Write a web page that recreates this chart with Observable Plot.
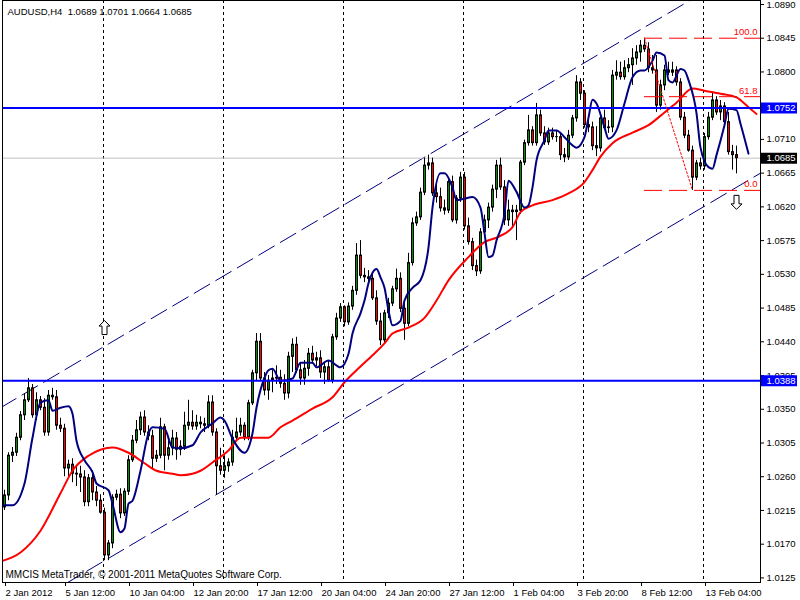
<!DOCTYPE html>
<html><head><meta charset="utf-8">
<script src="https://cdn.jsdelivr.net/npm/d3@7"></script>
<script src="https://cdn.jsdelivr.net/npm/@observablehq/plot@0.6"></script>
<style>
body{margin:0;background:#fff;}
svg{display:block}
svg text{white-space:pre}
</style>
</head><body><div id="chart"></div>
<script>
const symbolName = "AUDUSD", timeframe = "H4";
const copyright = "MMCIS MetaTrader, \u00a9 2001-2011 MetaQuotes Software Corp.";

const opens = [1.0219,1.0235,1.0288,1.0292,1.0312,1.0342,1.0362,1.0378,1.0342,1.0362,
1.0352,1.0319,1.0368,1.0366,1.0328,1.0324,1.0271,1.0276,1.0264,1.0263,
1.0259,1.0226,1.0258,1.0239,1.0228,1.0212,1.0155,1.0171,1.0232,1.0236,
1.0211,1.0240,1.0282,1.0308,1.0322,1.0339,1.0319,1.0314,1.0284,1.0288,
1.0326,1.0288,1.0298,1.0311,1.0296,1.0300,1.0328,1.0332,1.0327,1.0332,
1.0330,1.0328,1.0359,1.0319,1.0274,1.0268,1.0274,1.0279,1.0312,1.0319,
1.0328,1.0312,1.0358,1.0398,1.0440,1.0391,1.0375,1.0388,1.0391,1.0392,
1.0384,1.0371,1.0420,1.0436,1.0402,1.0391,1.0404,1.0424,1.0415,1.0418,
1.0399,1.0406,1.0388,1.0446,1.0471,1.0486,1.0466,1.0487,1.0508,1.0555,
1.0528,1.0526,1.0524,1.0498,1.0467,1.0442,1.0478,1.0491,1.0510,1.0524,
1.0484,1.0464,1.0545,1.0598,1.0606,1.0639,1.0675,1.0678,1.0638,1.0633,
1.0618,1.0615,1.0653,1.0602,1.0631,1.0659,1.0594,1.0573,1.0541,1.0534,
1.0586,1.0602,1.0619,1.0643,1.0675,1.0646,1.0602,1.0615,1.0613,1.0615,
1.0679,1.0705,1.0722,1.0705,1.0742,1.0718,1.0706,1.0718,1.0713,1.0713,
1.0689,1.0686,1.0715,1.0738,1.0786,1.0771,1.0729,1.0726,1.0701,1.0698,
1.0738,1.0725,1.0726,1.0795,1.0799,1.0793,1.0805,1.0809,1.0818,1.0826,
1.0835,1.0830,1.0805,1.0802,1.0755,1.0782,1.0802,1.0799,1.0802,1.0786,
1.0739,1.0715,1.0695,1.0659,1.0678,1.0674,1.0713,1.0739,1.0762,1.0746,
1.0754,1.0733,1.0693,1.0689];

const highs = [1.0242,1.0292,1.0299,1.0318,1.0347,1.0371,1.0391,1.0383,1.0372,1.0367,
1.0364,1.0375,1.0378,1.0375,1.0338,1.0330,1.0282,1.0284,1.0274,1.0274,
1.0268,1.0263,1.0268,1.0247,1.0236,1.0218,1.0175,1.0236,1.0242,1.0244,
1.0244,1.0288,1.0315,1.0335,1.0346,1.0348,1.0328,1.0322,1.0295,1.0338,
1.0330,1.0308,1.0322,1.0319,1.0308,1.0346,1.0362,1.0348,1.0342,1.0340,
1.0338,1.0368,1.0368,1.0324,1.0298,1.0288,1.0284,1.0322,1.0338,1.0338,
1.0332,1.0362,1.0402,1.0451,1.0451,1.0399,1.0395,1.0402,1.0408,1.0402,
1.0396,1.0426,1.0444,1.0446,1.0412,1.0415,1.0431,1.0434,1.0426,1.0428,
1.0412,1.0415,1.0450,1.0478,1.0491,1.0488,1.0492,1.0514,1.0571,1.0575,
1.0538,1.0535,1.0532,1.0508,1.0478,1.0482,1.0498,1.0514,1.0537,1.0532,
1.0495,1.0558,1.0605,1.0613,1.0645,1.0685,1.0689,1.0685,1.0649,1.0645,
1.0629,1.0658,1.0661,1.0635,1.0666,1.0666,1.0605,1.0578,1.0549,1.0591,
1.0609,1.0625,1.0649,1.0682,1.0685,1.0655,1.0629,1.0622,1.0622,1.0682,
1.0709,1.0742,1.0727,1.0758,1.0749,1.0727,1.0725,1.0725,1.0722,1.0719,
1.0698,1.0722,1.0742,1.0795,1.0791,1.0775,1.0738,1.0733,1.0727,1.0741,
1.0749,1.0735,1.0802,1.0815,1.0813,1.0815,1.0818,1.0831,1.0835,1.0842,
1.0845,1.0839,1.0822,1.0822,1.0789,1.0809,1.0813,1.0813,1.0807,1.0791,
1.0746,1.0722,1.0701,1.0682,1.0685,1.0718,1.0746,1.0773,1.0767,1.0762,
1.0759,1.0746,1.0702,1.0701];

const lows = [1.0215,1.0228,1.0279,1.0287,1.0308,1.0335,1.0359,1.0338,1.0335,1.0348,
1.0314,1.0314,1.0362,1.0322,1.0319,1.0260,1.0260,1.0252,1.0247,1.0239,
1.0220,1.0220,1.0228,1.0220,1.0210,1.0148,1.0148,1.0164,1.0228,1.0204,
1.0207,1.0235,1.0279,1.0304,1.0315,1.0314,1.0308,1.0271,1.0279,1.0284,
1.0268,1.0282,1.0288,1.0282,1.0288,1.0295,1.0322,1.0322,1.0322,1.0324,
1.0319,1.0324,1.0314,1.0235,1.0262,1.0258,1.0266,1.0274,1.0308,1.0314,
1.0308,1.0308,1.0355,1.0387,1.0388,1.0368,1.0362,1.0372,1.0383,1.0378,
1.0362,1.0364,1.0399,1.0398,1.0382,1.0382,1.0394,1.0410,1.0407,1.0391,
1.0383,1.0386,1.0384,1.0442,1.0466,1.0460,1.0462,1.0482,1.0502,1.0524,
1.0519,1.0516,1.0495,1.0462,1.0435,1.0438,1.0471,1.0487,1.0506,1.0479,
1.0442,1.0460,1.0541,1.0594,1.0602,1.0635,1.0669,1.0634,1.0625,1.0613,
1.0609,1.0611,1.0599,1.0597,1.0626,1.0589,1.0569,1.0535,1.0527,1.0530,
1.0581,1.0591,1.0613,1.0631,1.0642,1.0595,1.0594,1.0591,1.0575,1.0610,
1.0675,1.0701,1.0701,1.0701,1.0714,1.0702,1.0702,1.0709,1.0706,1.0682,
1.0679,1.0682,1.0711,1.0733,1.0762,1.0725,1.0719,1.0695,1.0687,1.0693,
1.0722,1.0718,1.0719,1.0789,1.0789,1.0789,1.0799,1.0782,1.0809,1.0813,
1.0826,1.0799,1.0797,1.0746,1.0749,1.0775,1.0795,1.0794,1.0781,1.0735,
1.0711,1.0693,1.0642,1.0655,1.0669,1.0669,1.0709,1.0735,1.0742,1.0735,
1.0729,1.0689,1.0669,1.0664];

const closes = [1.0235,1.0288,1.0292,1.0312,1.0342,1.0362,1.0378,1.0342,1.0362,1.0352,
1.0319,1.0368,1.0366,1.0328,1.0324,1.0271,1.0276,1.0264,1.0263,1.0259,
1.0226,1.0258,1.0239,1.0228,1.0212,1.0155,1.0171,1.0232,1.0236,1.0211,
1.0240,1.0282,1.0308,1.0322,1.0339,1.0319,1.0314,1.0284,1.0288,1.0326,
1.0288,1.0298,1.0311,1.0296,1.0300,1.0328,1.0332,1.0327,1.0332,1.0330,
1.0328,1.0359,1.0319,1.0274,1.0268,1.0274,1.0279,1.0312,1.0319,1.0328,
1.0312,1.0358,1.0398,1.0440,1.0391,1.0375,1.0388,1.0391,1.0392,1.0384,
1.0371,1.0420,1.0436,1.0402,1.0391,1.0404,1.0424,1.0415,1.0418,1.0399,
1.0406,1.0388,1.0446,1.0471,1.0486,1.0466,1.0487,1.0508,1.0555,1.0528,
1.0526,1.0524,1.0498,1.0467,1.0442,1.0478,1.0491,1.0510,1.0524,1.0484,
1.0464,1.0545,1.0598,1.0606,1.0639,1.0675,1.0678,1.0638,1.0633,1.0618,
1.0615,1.0653,1.0602,1.0631,1.0659,1.0594,1.0573,1.0541,1.0534,1.0586,
1.0602,1.0619,1.0643,1.0675,1.0646,1.0602,1.0615,1.0613,1.0615,1.0679,
1.0705,1.0722,1.0705,1.0742,1.0718,1.0706,1.0718,1.0713,1.0713,1.0689,
1.0686,1.0715,1.0738,1.0786,1.0771,1.0729,1.0726,1.0701,1.0698,1.0738,
1.0725,1.0726,1.0795,1.0799,1.0793,1.0805,1.0809,1.0818,1.0826,1.0835,
1.0830,1.0805,1.0802,1.0755,1.0782,1.0802,1.0799,1.0802,1.0786,1.0739,
1.0715,1.0695,1.0659,1.0678,1.0674,1.0713,1.0739,1.0762,1.0746,1.0754,
1.0733,1.0693,1.0689,1.0685];

const xTickIdx = [0,15,31,47,63,79,95,111,127,143,159,175];
const xTickText = ["2 Jan 2012","5 Jan 12:00","10 Jan 04:00","12 Jan 20:00","17 Jan 12:00","20 Jan 04:00","24 Jan 20:00","27 Jan 12:00","1 Feb 04:00","3 Feb 20:00","8 Feb 12:00","13 Feb 04:00"];
// 1.0755 is hidden behind the 1.0752 price label in the reference
const yTicks = [1.0125,1.0170,1.0215,1.0260,1.0305,1.0350,1.0395,1.0440,1.0485,1.0530,1.0575,1.0620,1.0665,1.0710,1.0800,1.0845,1.0890];
const weekStartIdx = [24,54,84,114,144,174];

const blueIdx = [-1,2,5,7,9,11,12,14,16,17,18,20,22,23,26,27,29,30,31,32,34,36,37,40,42,44,47,49,52,54,55,57,60,62,63,65,66,67,69,72,74,77,78,81,84,86,87,89,90,91,92,93,94,95,96,97,99,100,102,104,106,107,109,110,112,113,115,117,119,120,121,122,123,125,126,128,130,131,132,133,135,136,138,140,142,143,145,146,147,148,150,151,153,155,157,159,160,162,163,165,166,167,169,170,171,173,174,176,177,178,180,181,183,184,186];
const blueVal = [1.0222,1.0222,1.0251,1.0312,1.0359,1.0362,1.0348,1.0352,1.0354,1.0344,
1.0308,1.0282,1.0266,1.0251,1.0242,1.0224,1.0186,1.0191,1.0224,1.0228,
1.0268,1.0318,1.0326,1.0324,1.0299,1.0298,1.0302,1.0319,1.0331,1.0339,
1.0335,1.0311,1.0292,1.0318,1.0352,1.0392,1.0402,1.0404,1.0388,1.0391,
1.0412,1.0412,1.0406,1.0415,1.0406,1.0424,1.0451,1.0478,1.0495,1.0518,
1.0532,1.0537,1.0526,1.0512,1.0482,1.0462,1.0468,1.0495,1.0512,1.0522,
1.0566,1.0619,1.0665,1.0665,1.0646,1.0629,1.0631,1.0633,1.0619,1.0585,
1.0553,1.0555,1.0575,1.0611,1.0655,1.0640,1.0619,1.0622,1.0646,1.0682,
1.0709,1.0722,1.0722,1.0713,1.0702,1.0699,1.0713,1.0739,1.0763,1.0758,
1.0726,1.0711,1.0722,1.0758,1.0793,1.0802,1.0802,1.0815,1.0826,1.0822,
1.0789,1.0786,1.0804,1.0802,1.0789,1.0745,1.0699,1.0673,1.0671,1.0689,
1.0729,1.0751,1.0749,1.0731,1.0691];

const redIdx = [-1,4,9,14,17,21,24,27,31,35,38,42,44,47,49,52,56,59,62,66,69,72,77,82,85,88,92,95,97,101,105,108,111,116,120,123,127,129,132,137,141,145,147,149,152,157,161,165,168,172,175,179,183,186,188];
const redVal = [1.0147,1.0159,1.0188,1.0238,1.0268,1.0288,1.0296,1.0299,1.0292,1.0278,
1.0268,1.0264,1.0262,1.0264,1.0268,1.0279,1.0295,1.0312,1.0312,1.0312,
1.0326,1.0335,1.0351,1.0366,1.0386,1.0402,1.0422,1.0438,1.0451,1.0459,
1.0472,1.0495,1.0522,1.0553,1.0573,1.0579,1.0593,1.0613,1.0622,1.0629,
1.0638,1.0653,1.0669,1.0687,1.0705,1.0719,1.0729,1.0746,1.0759,1.0778,
1.0775,1.0771,1.0766,1.0753,1.0744];

const channelIdx = [-1, 189];
const channelUpper = [1.0352, 1.0951];
const channelLower = [1.0066, 1.0665];

const levelLines = [1.0752, 1.0388];
const bidPrice = 1.0685;

const fibText = ["100.0", "61.8", "0.0"];
const fibPrice = [1.0845, 1.0767, 1.0642];
const fibFromIdx = 160, fibToIdx = 189;
const fibTrendIdx = [160, 172];
const fibTrendPrice = [1.0845, 1.0642];

const arrowIdx = [25, 183];
const arrowPrice = [1.0459, 1.0626];
const arrowDir = ["up", "down"];

// ---- tables built from the arrays ----
const candles = closes.map((c, i) => ({i, o: opens[i], h: highs[i], l: lows[i], c}));
const blueMA = blueIdx.map((i, k) => ({i, v: blueVal[k]}));
const redMA = redIdx.map((i, k) => ({i, v: redVal[k]}));
const upperLine = channelIdx.map((i, k) => ({i, p: channelUpper[k]}));
const lowerLine = channelIdx.map((i, k) => ({i, p: channelLower[k]}));
const fibLevels = fibText.map((t, k) => ({t, p: fibPrice[k]}));
const fibTrend = fibTrendIdx.map((i, k) => ({i, p: fibTrendPrice[k]}));
const arrows = arrowIdx.map((i, k) => ({i, p: arrowPrice[k], dir: arrowDir[k]}));
const priceBoxes = [
  {p: levelLines[0], bg: "#0000ff"},
  {p: levelLines[1], bg: "#0000ff"},
  {p: bidPrice, bg: "#000000"}
];
const last = candles[candles.length - 1];
const title = `${symbolName},${timeframe}  ${last.o.toFixed(4)} ${last.h.toFixed(4)} ${last.l.toFixed(4)} ${last.c.toFixed(4)}`;

function arrowSymbol(dir) {
  return {
    draw(ctx, size) {
      const s = Math.sqrt(size / Math.PI) / 7;
      const k = dir === "up" ? 1 : -1;
      const pts = [[0,-7],[5.5,-1.5],[2.5,-1.5],[2.5,7],[-2.5,7],[-2.5,-1.5],[-5.5,-1.5]];
      pts.forEach(([x, y], j) => {
        if (j === 0) ctx.moveTo(x * s, k * y * s); else ctx.lineTo(x * s, k * y * s);
      });
      ctx.closePath();
    }
  };
}

const bull = "#009000", bear = "#ff0000";
const font = "'Liberation Sans', Arial, Helvetica, sans-serif";

const chart = Plot.plot({
  width: 800, height: 600,
  marginLeft: 2, marginRight: 40, marginTop: 0, marginBottom: 18,
  style: {fontFamily: font, fontSize: "9.5px", background: "#fff", color: "#000"},
  x: {domain: [-0.5, 189], axis: null},
  y: {domain: [1.01189, 1.08953], axis: null},
  marks: [
    Plot.ruleX(weekStartIdx, {x: d => d, stroke: "#000", strokeWidth: 1, strokeDasharray: "3,3", dx: 3}),
    Plot.line(upperLine, {x: "i", y: "p", stroke: "#000080", strokeWidth: 1, strokeDasharray: "18,7", clip: true}),
    Plot.line(lowerLine, {x: "i", y: "p", stroke: "#000080", strokeWidth: 1, strokeDasharray: "18,7", clip: true}),
    Plot.ruleY([bidPrice], {stroke: "#c0c0c0", strokeWidth: 1}),
    // candles
    Plot.ruleX(candles, {x: "i", y1: "h", y2: "l", stroke: "#000", strokeWidth: 1}),
    Plot.ruleX(candles, {x: "i", y1: d => Math.max(d.o, d.c), y2: d => Math.min(d.o, d.c), stroke: "#000", strokeWidth: 3, insetTop: -0.5, insetBottom: -0.5}),
    Plot.ruleX(candles.filter(d => Math.abs(d.o - d.c) >= 0.0003), {x: "i", y1: d => Math.max(d.o, d.c), y2: d => Math.min(d.o, d.c), stroke: d => d.c >= d.o ? bull : bear, strokeWidth: 1, insetTop: 1, insetBottom: 1}),
    // moving averages
    Plot.line(redMA, {x: "i", y: "v", stroke: "#ff0000", strokeWidth: 2, curve: "monotone-x", clip: true}),
    Plot.line(blueMA, {x: "i", y: "v", stroke: "#000080", strokeWidth: 2, curve: "monotone-x", clip: true}),
    // horizontal levels
    Plot.ruleY(levelLines, {stroke: "#0000ff", strokeWidth: 2}),
    // fibonacci
    Plot.ruleY(fibLevels, {y: "p", x1: fibFromIdx, x2: fibToIdx, stroke: "#ff0000", strokeWidth: 1, strokeDasharray: "18,7"}),
    Plot.line(fibTrend, {x: "i", y: "p", stroke: "#ff0000", strokeWidth: 1, strokeDasharray: "2,2"}),
    Plot.text(fibLevels, {y: "p", text: "t", frameAnchor: "right", textAnchor: "end", lineAnchor: "bottom", dx: -3, dy: -3, fill: "#ff0000"}),
    // arrows
    Plot.dot(arrows.filter(d => d.dir === "up"), {x: "i", y: "p", symbol: arrowSymbol("up"), r: 7, fill: "#fff", stroke: "#000", strokeWidth: 1}),
    Plot.dot(arrows.filter(d => d.dir === "down"), {x: "i", y: "p", symbol: arrowSymbol("down"), r: 7, fill: "#fff", stroke: "#000", strokeWidth: 1}),
    // axes
    Plot.axisY({anchor: "right", ticks: yTicks, tickFormat: d => d.toFixed(4), tickSize: 3, tickPadding: 3, label: null}),
    Plot.axisX({anchor: "bottom", ticks: xTickIdx, tickFormat: d => xTickText[xTickIdx.indexOf(d)], tickSize: 4, tickPadding: 3, textAnchor: "start", dx: 1, label: null}),
    // price boxes on the axis
    Plot.ruleY(priceBoxes, {y: "p", stroke: "bg", strokeWidth: 11, insetLeft: 759, insetRight: -37}),
    Plot.text(priceBoxes, {y: "p", text: d => d.p.toFixed(4), frameAnchor: "right", textAnchor: "start", dx: 6, fill: "#fff"}),
    Plot.frame({stroke: "#000"}),
    Plot.text([title], {text: d => d, frameAnchor: "top-left", textAnchor: "start", lineAnchor: "bottom", dx: 5, dy: 14}),
    Plot.text([copyright], {text: d => d, frameAnchor: "bottom-left", textAnchor: "start", lineAnchor: "bottom", dx: 3, dy: -5, fontSize: 10})
  ]
});
document.getElementById("chart").append(chart);
</script></body></html>
